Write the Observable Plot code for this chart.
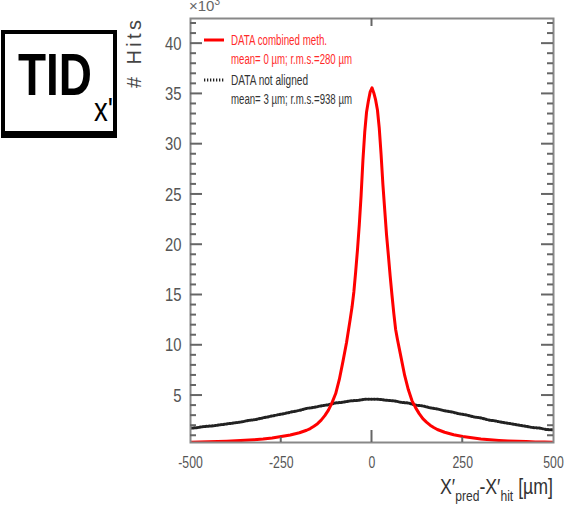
<!DOCTYPE html>
<html><head><meta charset="utf-8">
<script src="https://cdn.jsdelivr.net/npm/d3@7"></script>
<script src="https://cdn.jsdelivr.net/npm/@observablehq/plot@0.6"></script>
<style>html,body{margin:0;padding:0;background:#fff;overflow:hidden}</style>
</head><body><div id="chart"></div>
<script>
// ---- data (units: x in µm, y in 10^3 hits) ----
const xRed = [-500,-475,-450,-425,-400,-375,-350,-325,-300,-275,-250,-225,-200,-180,-170,-160,-150,-140,-130,-120,-110,-100,-90,-80,-70,-60,-55,-50,-45,-40,-35,-30,-25,-20,-15,-10,-5,0,5,10,15,20,25,30,35,40,45,50,55,60,65,70,80,90,100,110,120,130,140,150,160,170,180,200,225,250,275,300,325,350,375,400,425,450,475,500];
const yRed = [0.35,0.38,0.40,0.43,0.46,0.50,0.55,0.60,0.67,0.78,0.92,1.08,1.30,1.55,1.72,1.95,2.20,2.55,3.00,3.55,4.30,5.20,6.60,8.40,10.3,12.6,13.8,15.3,17.3,19.5,22.0,24.9,28.4,31.2,33.2,34.3,35.2,35.6,35.1,34.4,33.4,31.6,29.0,26.0,23.5,21.0,19.0,16.9,15.0,13.2,11.6,10.6,8.8,7.0,5.6,4.5,3.8,3.2,2.7,2.35,2.05,1.82,1.62,1.35,1.10,0.93,0.80,0.68,0.60,0.54,0.49,0.45,0.42,0.39,0.37,0.35];
const xBlack = [-500,-480,-460,-440,-420,-400,-380,-360,-340,-320,-300,-280,-260,-240,-220,-200,-180,-160,-140,-120,-100,-80,-60,-40,-20,0,20,40,60,80,100,120,140,160,180,200,220,240,260,280,300,320,340,360,380,400,420,440,460,480,500];
const yBlack = [1.75,1.82,1.93,1.98,2.08,2.18,2.27,2.38,2.52,2.62,2.78,2.93,3.08,3.22,3.38,3.52,3.72,3.83,3.97,4.08,4.27,4.33,4.47,4.52,4.62,4.63,4.62,4.53,4.47,4.33,4.26,4.05,3.97,3.78,3.67,3.48,3.37,3.18,3.07,2.88,2.77,2.58,2.47,2.33,2.22,2.08,1.97,1.83,1.77,1.63,1.58];
const yMajorTicks = [5,10,15,20,25,30,35,40];
const yMinorTicks = [1,2,3,4,6,7,8,9,11,12,13,14,16,17,18,19,21,22,23,24,26,27,28,29,31,32,33,34,36,37,38,39,41,42];
const xTickLabels = [-500,-250,0,250,500];
const xMinorTicks = [-250,250];
const xMajorTicks = [0];
const seriesNames = ["DATA combined meth.","DATA not aligned"];
const seriesStats = ["mean= 0 \u00b5m; r.m.s.=280 \u00b5m","mean= 3 \u00b5m; r.m.s.=938 \u00b5m"];
const seriesColors = ["#ff0000","#222222"];
const textColors = ["#ff2a2a","#333333"];

(function () {
const red = xRed.map((x,i)=>({x, y:yRed[i]}));
const black = xBlack.map((x,i)=>({x, y:yBlack[i]}));

const FF = "'Liberation Sans Narrow','Liberation Sans',Arial,sans-serif";
const AX = "#666666";
const X0 = -500, X1 = 500, Y0 = 0.33, Y1 = 42.5;
const mL = 190, mR = 13, mT = 18, mB = 69, W = 566, H = 511;

const svg = Plot.plot({
  width: W, height: H,
  marginLeft: mL, marginRight: mR, marginTop: mT, marginBottom: mB,
  style: {fontFamily: FF, background: "white", overflow: "visible"},
  x: {domain: [X0, X1]},
  y: {domain: [Y0, Y1]},
  marks: [
    Plot.line(black, {x:"x", y:"y", stroke: seriesColors[1], strokeWidth: 3, strokeDasharray: "1.3,1.7", clip: true}),
    Plot.line(red, {x:"x", y:"y", stroke: seriesColors[0], strokeWidth: 3, clip: true}),
    Plot.frame({stroke: "#888", strokeWidth: 2}),
    Plot.axisY(yMajorTicks, {anchor:"left", tickSize:0, tickPadding:9, fontSize:19, fill:"#555", label:null, tickFormat: d=>String(d)}),
    Plot.axisX(xTickLabels, {anchor:"bottom", tickSize:0, tickPadding:13, fontSize:17, fill:"#555", label:null, tickFormat: d=>String(d)})
  ]
});
document.getElementById("chart").appendChild(svg);

const s = d3.select(svg);
const sx = svg.scale("x"), sy = svg.scale("y");
const fx = v => sx.apply(v), fy = v => sy.apply(v);
const pL = fx(X0), pR = fx(X1), pB = fy(Y0), pT = fy(Y1);

// inward ticks (ROOT style), positioned through Plot's scales
const tg = s.append("g").attr("class","ticks");
function seg(x1, y1, x2, y2) {
  tg.append("path").attr("d", `M${x1},${y1}L${x2},${y2}`)
    .attr("fill","none").attr("stroke", AX).attr("stroke-width", 2);
}
yMajorTicks.forEach(v => { const y = fy(v); seg(pL, y, pL + 12, y); seg(pR - 12, y, pR, y); });
yMinorTicks.forEach(v => { const y = fy(v); seg(pL, y, pL + 6, y); seg(pR - 6, y, pR, y); });
xMajorTicks.forEach(v => { const x = fx(v); seg(x, pB, x, pB - 12); seg(x, pT, x, pT + 8); });
xMinorTicks.forEach(v => { const x = fx(v); seg(x, pB, x, pB - 5); });

// condense the tick labels like the reference's narrow font
s.selectAll('g[aria-label="y-axis tick label"] text').each(function(){
  const L = this.getComputedTextLength();
  this.setAttribute("textLength", L*0.78); this.setAttribute("lengthAdjust","spacingAndGlyphs");
});
s.selectAll('g[aria-label="x-axis tick label"] text').each(function(){
  const L = this.getComputedTextLength();
  this.setAttribute("textLength", L*0.72); this.setAttribute("lengthAdjust","spacingAndGlyphs");
});

// x10^3 multiplier
const mult = s.append("text").attr("x",189).attr("y",11).attr("text-anchor","start").attr("font-family",FF).attr("font-size",15).attr("fill","#666");
mult.append("tspan").text("\u00d710");
mult.append("tspan").attr("dy",-6).attr("font-size",10).text("3");

// y axis title
s.append("text").attr("transform","translate(141,88) rotate(-90)").attr("text-anchor","start").attr("font-family",FF)
  .attr("font-size",20).attr("fill","#444").attr("textLength",68).attr("lengthAdjust","spacing").text("# Hits");

// x axis title
const xt = s.append("text").attr("x",440).attr("y",494).attr("text-anchor","start").attr("font-family",FF)
  .attr("font-size",22).attr("fill","#333").attr("textLength",113).attr("lengthAdjust","spacingAndGlyphs");
xt.append("tspan").text("X\u2032");
xt.append("tspan").attr("dy",7).attr("font-size",15).text("pred");
xt.append("tspan").attr("dy",-7).text("-X\u2032");
xt.append("tspan").attr("dy",7).attr("font-size",15).text("hit");
xt.append("tspan").attr("dy",-7).text(" [\u00b5m]");

// legend
const legY = [40, 80];
legY.forEach((ly,i)=>{
  s.append("line").attr("x1",204).attr("x2",224).attr("y1",ly).attr("y2",ly)
    .attr("stroke",seriesColors[i]).attr("stroke-width",3)
    .attr("stroke-dasharray", i===1 ? "1.3,1.7" : null);
  s.append("text").attr("x",231).attr("y",ly+5).attr("text-anchor","start").attr("font-family",FF).attr("font-size",14)
    .attr("fill",textColors[i]).attr("textLength", i===0 ? 96 : 77).attr("lengthAdjust","spacingAndGlyphs").text(seriesNames[i]);
  s.append("text").attr("x",231).attr("y",ly+24).attr("text-anchor","start").attr("font-family",FF).attr("font-size",14)
    .attr("fill",textColors[i]).attr("textLength",121).attr("lengthAdjust","spacingAndGlyphs").text(seriesStats[i]);
});

// TID label box
s.append("rect").attr("x",3).attr("y",32).attr("width",112).attr("height",101)
  .attr("fill","white").attr("stroke","#000").attr("stroke-width",4);
s.append("rect").attr("x",1).attr("y",131).attr("width",116).attr("height",7).attr("fill","#000");
s.append("text").attr("x",18).attr("y",95).attr("text-anchor","start").attr("font-family","'Liberation Sans',Arial,sans-serif")
  .attr("font-size",59).attr("font-weight","bold").attr("fill","#000")
  .attr("textLength",74).attr("lengthAdjust","spacingAndGlyphs").text("TID");
s.append("text").attr("x",94).attr("y",121).attr("text-anchor","start").attr("font-family","'Liberation Sans',Arial,sans-serif")
  .attr("font-size",34).attr("fill","#000")
  .attr("textLength",19).attr("lengthAdjust","spacingAndGlyphs").text("x'");
})();
</script>
</body></html>
